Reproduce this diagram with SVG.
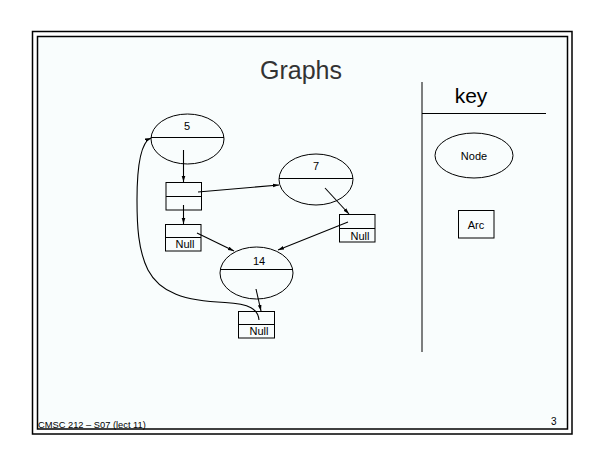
<svg xmlns="http://www.w3.org/2000/svg" width="605" height="467" viewBox="0 0 605 467">
<style>
.fr{fill:none;stroke:#000;stroke-width:1.5}
.sh{fill:none;stroke:#000;stroke-width:1}
.ln{fill:none;stroke:#000;stroke-width:1.1}
.t{font-family:"Liberation Sans",Arial,sans-serif;fill:#000;text-anchor:middle}
</style>
<defs>
<marker id="ah" markerWidth="7" markerHeight="5" refX="6" refY="2.5" orient="auto" markerUnits="userSpaceOnUse">
<path d="M0,0.7 L6,2.5 L0,4.3 Z" fill="#000"/>
</marker>
</defs>
<rect x="0" y="0" width="605" height="467" fill="#fff"/>
<rect x="37" y="36.5" width="530.5" height="392.5" fill="#f9fdfd"/>
<rect class="fr" x="32.5" y="31.5" width="539.5" height="402.5"/>
<rect class="fr" x="37.5" y="36.5" width="530" height="392.5"/>
<text class="t" x="301" y="79" font-size="25" style="fill:#333">Graphs</text>
<g id="key">
<line class="sh" x1="422" y1="82" x2="422" y2="352"/>
<line class="sh" x1="422" y1="113.5" x2="546" y2="113.5"/>
<text class="t" x="471" y="103" font-size="21">key</text>
</g>
<g id="key-node">
<ellipse class="sh" cx="474" cy="155.5" rx="39" ry="22.5"/>
<text class="t" x="474" y="160" font-size="11">Node</text>
</g>
<g id="key-arc">
<rect class="sh" x="458.5" y="210.5" width="35.5" height="27.5"/>
<text class="t" x="476" y="229" font-size="11">Arc</text>
</g>
<g id="n5">
<ellipse class="sh" cx="187.5" cy="139" rx="36.5" ry="25"/>
<line class="sh" x1="151" y1="137.5" x2="224" y2="137.5"/>
<text class="t" x="187" y="130" font-size="11">5</text>
</g>
<g id="n7">
<ellipse class="sh" cx="316" cy="179.5" rx="37" ry="25.5"/>
<line class="sh" x1="279" y1="178.5" x2="353" y2="178.5"/>
<text class="t" x="316" y="170" font-size="11">7</text>
</g>
<g id="n14">
<ellipse class="sh" cx="256.5" cy="273" rx="36.5" ry="26"/>
<line class="sh" x1="220" y1="269.5" x2="293" y2="269.5"/>
<text class="t" x="259" y="265" font-size="11">14</text>
</g>
<g id="b1">
<rect class="sh" x="166" y="182.5" width="35.5" height="27.5"/>
<line class="sh" x1="166" y1="196.5" x2="201.5" y2="196.5"/>
</g>
<g id="b2">
<rect class="sh" x="339.5" y="214.5" width="35.5" height="27.5"/>
<line class="sh" x1="339.5" y1="228.5" x2="375" y2="228.5"/>
<text class="t" x="360" y="239.5" font-size="11">Null</text>
</g>
<g id="b3">
<rect class="sh" x="165.5" y="224.5" width="35.5" height="26.5"/>
<line class="sh" x1="165.5" y1="237.5" x2="201" y2="237.5"/>
<text class="t" x="185" y="248" font-size="11">Null</text>
</g>
<g id="b4">
<rect class="sh" x="238.5" y="311.5" width="36" height="26.5"/>
<line class="sh" x1="238.5" y1="324.5" x2="274.5" y2="324.5"/>
<text class="t" x="259" y="335" font-size="11">Null</text>
</g>
<g id="connectors">
<line class="ln" x1="183.5" y1="150" x2="183.5" y2="182" marker-end="url(#ah)"/>
<line class="ln" x1="198" y1="192" x2="279" y2="185" marker-end="url(#ah)"/>
<line class="ln" x1="183.5" y1="205" x2="183.5" y2="224" marker-end="url(#ah)"/>
<line class="ln" x1="325" y1="188" x2="349" y2="214" marker-end="url(#ah)"/>
<line class="ln" x1="348" y1="222" x2="278" y2="250" marker-end="url(#ah)"/>
<line class="ln" x1="197" y1="233" x2="234" y2="251" marker-end="url(#ah)"/>
<line class="ln" x1="256" y1="289" x2="261" y2="311" marker-end="url(#ah)"/>
<path class="ln" d="M259,320 C258,309 250,304 225,302.5 C185,301 160,293 148,270 C138,250 137,225 137,200 C137,165 141,142 151,138" marker-end="url(#ah)"/>
</g>
<text x="38" y="428" font-family="Liberation Sans,Arial,sans-serif" font-size="9.3">CMSC 212 – S07 (lect 11)</text>
<text x="551" y="425" font-family="Liberation Sans,Arial,sans-serif" font-size="10">3</text>
</svg>
